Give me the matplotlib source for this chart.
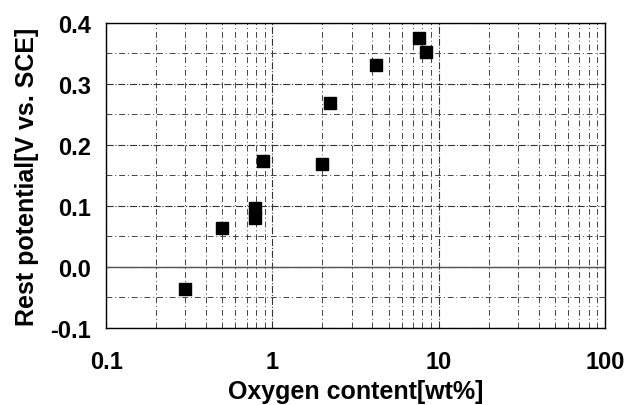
import numpy as np
import matplotlib.pyplot as plt

plt.rcParams['font.family'] = ['Liberation Sans', 'DejaVu Sans']
plt.rcParams['font.weight'] = 'bold'

oxygen = [0.3, 0.5, 0.79, 0.79, 0.88, 2.0, 2.23, 4.2, 7.65, 8.4]
potential = [-0.036, 0.064, 0.097, 0.080, 0.174, 0.169, 0.268, 0.331, 0.376, 0.352]

fig = plt.figure(figsize=(6.28, 4.06), dpi=100)
ax = fig.add_axes([0.169, 0.190, 0.794, 0.751])

ax.set_xscale('log')
ax.set_xlim(0.1, 100)
ax.set_ylim(-0.1, 0.4)

ax.set_yticks([-0.1, 0.0, 0.1, 0.2, 0.3, 0.4])
ax.set_yticklabels(['-0.1', '0.0', '0.1', '0.2', '0.3', '0.4'])
ax.set_yticks([-0.05, 0.05, 0.15, 0.25, 0.35], minor=True)
ax.set_xticks([0.1, 1, 10, 100])
ax.set_xticklabels(['0.1', '1', '10', '100'])

ax.grid(which='major', color='#333333', linestyle='-.', linewidth=0.8)
ax.grid(which='minor', color='#444444', linestyle=(0, (6, 3, 1, 3)), linewidth=0.7)
ax.axhline(0, color='#555555', linewidth=1.0)

ax.tick_params(which='both', length=0, labelsize=17)
ax.tick_params(axis='x', pad=16)
ax.tick_params(axis='y', pad=11)
for lab in ax.get_xticklabels() + ax.get_yticklabels():
    lab.set_fontweight('bold')

ax.plot(oxygen, potential, 's', color='black', markersize=8, zorder=5)

ax.set_xlabel('Oxygen content[wt%]', fontsize=18, fontweight='bold', labelpad=4)
ax.set_ylabel('Rest potential[V vs. SCE]', fontsize=18, fontweight='bold', labelpad=8)

for s in ax.spines.values():
    s.set_linewidth(1.0)

plt.savefig('out.png', dpi=100)
